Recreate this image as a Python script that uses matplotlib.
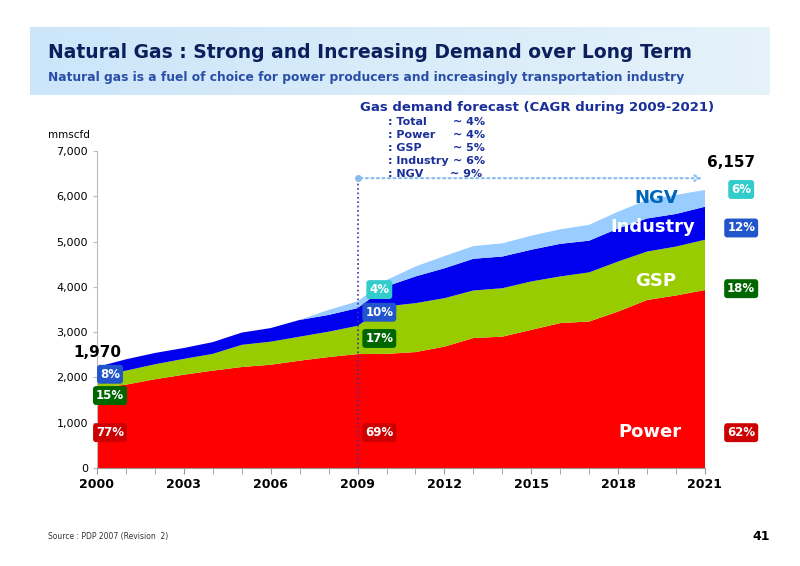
import matplotlib
matplotlib.use("Agg")
import matplotlib.pyplot as plt
import numpy as np

years = list(range(2000, 2022))
power = [1770, 1840, 1960, 2060, 2150, 2230, 2280, 2370, 2450, 2515, 2520, 2560, 2680, 2870, 2900, 3050, 3200, 3235, 3455, 3710, 3810, 3930]
gsp_top = [2050, 2150, 2290, 2410, 2520, 2720, 2790, 2900, 3010, 3140, 3570, 3640, 3750, 3920, 3970, 4120, 4230, 4320, 4560, 4780, 4890, 5040]
ind_top = [2230, 2400, 2540, 2650, 2780, 2990, 3090, 3270, 3380, 3530, 4010, 4230, 4410, 4620, 4670, 4820, 4950, 5020, 5290, 5510, 5610, 5770]
ngv_top = [2230, 2400, 2540, 2650, 2780, 2990, 3090, 3270, 3490, 3680, 4150, 4450, 4680, 4900, 4960, 5130, 5270, 5370, 5660, 5920, 6030, 6140]
gsp = [g - p for g, p in zip(gsp_top, power)]
industry = [i - g for i, g in zip(ind_top, gsp_top)]
ngv = [n - i for n, i in zip(ngv_top, ind_top)]

fig = plt.figure(figsize=(8, 5.66), dpi=100)
fig.patch.set_facecolor("white")

grad = np.linspace(0, 1, 256).reshape(1, -1)
bax = fig.add_axes([30/800, 1-95/566, 740/800, 68/566])
bax.imshow(np.dstack([0.80+0.1*grad, 0.90+0.05*grad, 0.98+0*grad]), aspect="auto", extent=[0, 1, 0, 1])
bax.axis("off")
fig.text(48/800, 1-52/566, "Natural Gas : Strong and Increasing Demand over Long Term",
         fontsize=13.5, fontweight="bold", color="#0a1f5c", va="center")
fig.text(48/800, 1-77/566, "Natural gas is a fuel of choice for power producers and increasingly transportation industry",
         fontsize=8.8, fontweight="bold", color="#2a4ea8", va="center")

ax = fig.add_axes([97/800, 1-468/566, 608/800, 317/566])
ax.stackplot(years, power, gsp, industry, ngv,
             colors=["#ff0000", "#99cc00", "#0000ee", "#99ccff"], linewidth=0)
ax.set_xlim(2000, 2021)
ax.set_ylim(0, 7000)
ax.set_xticks(range(2000, 2022, 3))
ax.set_xticks(years, minor=True)
ax.set_yticks(range(0, 7001, 1000))
ax.set_yticklabels([f"{v:,}" for v in range(0, 7001, 1000)], fontsize=8)
for lab in ax.get_xticklabels():
    lab.set_fontweight("bold"); lab.set_fontsize(9)
for s in ["top", "right"]:
    ax.spines[s].set_visible(False)
ax.spines["left"].set_color("#bbbbbb")
ax.spines["bottom"].set_color("#999999")
ax.tick_params(axis="y", length=3, color="#bbbbbb")
ax.tick_params(axis="x", which="both", length=4, color="#999999")
fig.text(48/800, 1-135/566, "mmscfd", fontsize=7.5, va="center")

ax.plot([2009, 2009], [0, 6400], ls=":", color="#3333aa", lw=1.2, clip_on=False)
ax.annotate("", xy=(2021, 6400), xytext=(2009, 6400),
            arrowprops=dict(arrowstyle="->", ls=":", color="#88bbee", lw=1.5), annotation_clip=False)
ax.plot([2009], [6400], "o", color="#88bbee", ms=4, clip_on=False)

def box(x, y, txt, fc):
    ax.text(x, y, txt, fontsize=8.5, fontweight="bold", color="white", ha="center", va="center",
            bbox=dict(boxstyle="round,pad=0.25", fc=fc, ec="none"), clip_on=False)

box(2000.45, 2070, "8%", "#2255cc")
box(2000.45, 1600, "15%", "#006600")
box(2000.45, 780, "77%", "#cc0000")
box(2009.75, 3940, "4%", "#33cccc")
box(2009.75, 3440, "10%", "#2255cc")
box(2009.75, 2860, "17%", "#006600")
box(2009.75, 780, "69%", "#cc0000")
box(2022.25, 6150, "6%", "#33cccc")
box(2022.25, 5300, "12%", "#2255cc")
box(2022.25, 3960, "18%", "#006600")
box(2022.25, 780, "62%", "#cc0000")

ax.text(2000, 2550, "1,970", fontsize=11, fontweight="bold", ha="center", va="center")
ax.text(2021.9, 6750, "6,157", fontsize=11, fontweight="bold", ha="center", va="center")
ax.text(2019.3, 5970, "NGV", fontsize=13, fontweight="bold", color="#0066bb", ha="center", va="center")
ax.text(2019.2, 5320, "Industry", fontsize=13, fontweight="bold", color="white", ha="center", va="center")
ax.text(2019.3, 4130, "GSP", fontsize=13, fontweight="bold", color="white", ha="center", va="center")
ax.text(2019.1, 800, "Power", fontsize=13, fontweight="bold", color="white", ha="center", va="center")

fig.text(360/800, 1-107/566, "Gas demand forecast (CAGR during 2009-2021)", fontsize=9.5,
         fontweight="bold", color="#1a2f99", va="center")
rows = [(": Total", "~ 4%"), (": Power", "~ 4%"), (": GSP", "~ 5%"), (": Industry", "~ 6%"), (": NGV", "~ 9%")]
for k, (a, b) in enumerate(rows):
    y = 1-(122+13*k)/566
    fig.text(388/800, y, a, fontsize=8, fontweight="bold", color="#1a2f99", va="center")
    fig.text((453 if k < 4 else 450)/800, y, b, fontsize=8, fontweight="bold", color="#1a2f99", va="center")

fig.text(48/800, 1-536/566, "Source : PDP 2007 (Revision  2)", fontsize=5.5, va="center", color="#333333")
fig.text(752/800, 1-536/566, "41", fontsize=9, fontweight="bold", va="center")

fig.savefig("out.png", dpi=100)
